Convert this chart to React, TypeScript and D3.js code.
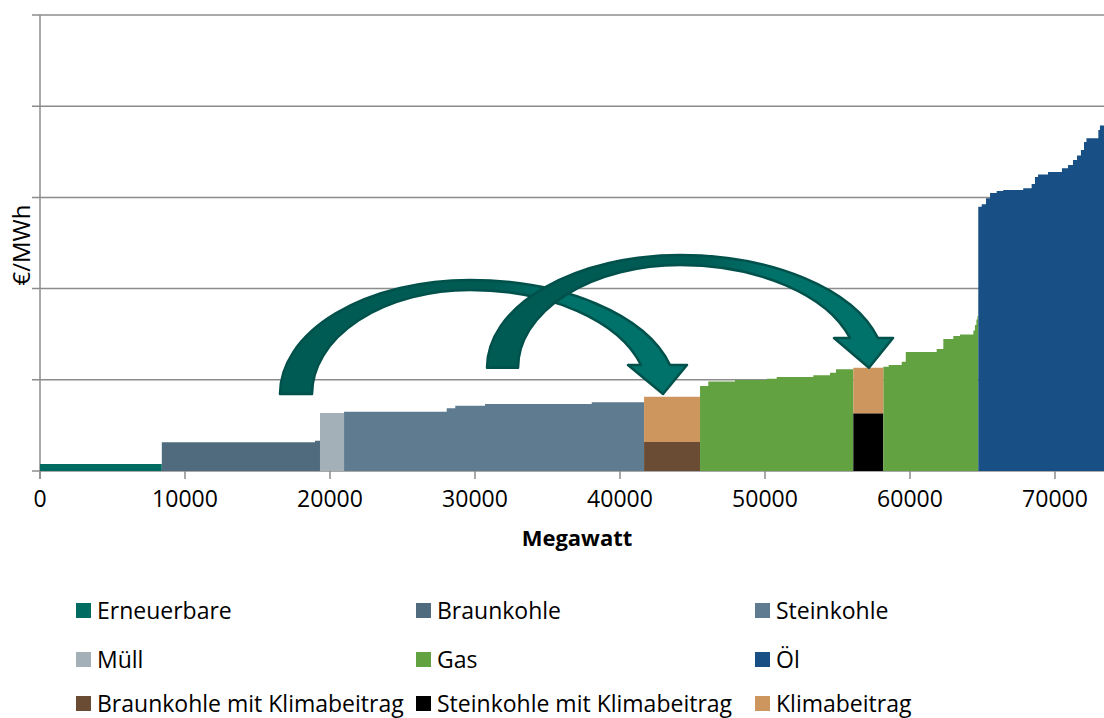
import * as d3 from "d3";

const W = 1104;
const H = 718;

// Merit-Order: [von MW, bis MW, €/MWh]
const erneuerbare = [[0, 8400, 3.8]];
const braunkohle = [[8400, 18970, 15.7], [18970, 19310, 16.6]];
const muell = [[19310, 20970, 31.8]];
const steinkohle = [
  [20970, 28050, 32.5], [28050, 28640, 34.4], [28640, 30690, 35.8],
  [30690, 38050, 36.7], [38050, 41660, 37.7],
];
const braunkohleKlima = [[41660, 45520, 15.9]];
const gasTeil1 = [
  [45520, 46090, 46.6], [46090, 47930, 49.0], [47930, 50120, 49.9],
  [50120, 50810, 50.6], [50810, 53330, 51.5], [53330, 54480, 52.5],
  [54480, 54900, 53.9], [54900, 56090, 55.8],
];
const steinkohleKlima = [[56090, 58160, 31.6]];
const gasTeil2 = [
  [58160, 58530, 57.2], [58530, 59430, 58.1], [59430, 59710, 59.9],
  [59710, 61840, 65.2], [61840, 62300, 66.9], [62300, 62990, 72.4],
  [62990, 63450, 74.0], [63450, 64370, 74.8], [64370, 64480, 77.0],
  [64480, 64580, 80.0], [64580, 64650, 83.0], [64650, 64710, 85.0],
];
const oel = [
  [64710, 64945, 144.9], [64945, 65240, 146.2], [65240, 65520, 149.5],
  [65520, 65980, 152.4], [65980, 66430, 153.5], [66430, 67810, 154.1],
  [67810, 68390, 155.0], [68390, 68620, 157.3], [68620, 68830, 161.2],
  [68830, 69520, 162.6], [69520, 70480, 163.9], [70480, 70900, 166.0],
  [70900, 71240, 167.8], [71240, 71520, 170.5], [71520, 71790, 173.0],
  [71790, 72000, 176.0], [72000, 72170, 180.4], [72170, 72990, 182.4],
  [72990, 73100, 186.9], [73100, 73600, 189.4],
];
// Klimabeitrag: [von, bis, Sockel, Gesamt]
const klimabeitrag = [
  [41660, 45520, 15.9, 40.7],
  [56090, 58160, 31.6, 56.6],
];

const xTicks = [0, 10000, 20000, 30000, 40000, 50000, 60000, 70000];
const yGrid = [0, 50, 100, 150, 200, 250];

const legend = [
  { name: "Erneuerbare", color: "#006b60" },
  { name: "Braunkohle", color: "#516b7e" },
  { name: "Steinkohle", color: "#5e7b90" },
  { name: "Müll", color: "#a3b0b7" },
  { name: "Gas", color: "#62a241" },
  { name: "Öl", color: "#184f84" },
  { name: "Braunkohle mit Klimabeitrag", color: "#6a4c35" },
  { name: "Steinkohle mit Klimabeitrag", color: "#000000" },
  { name: "Klimabeitrag", color: "#cc965e" },
];
const colorOf = (n: string) => legend.find((l) => l.name === n)!.color;

// Pfeile (in Datenkoordinaten)
const arrows = [
  { crest: 29660, base: 42.2, tailOuter: 16550, tailInner: 18760, stemInner: 41450, stemOuter: 43450,
    outerTop: 104.7, innerTop: 99.2, head: 58.1, wingL: 40550, wingR: 44620, tip: 42970 },
  { crest: 44140, base: 56.6, tailOuter: 30830, tailInner: 32970, stemInner: 55860, stemOuter: 57790,
    outerTop: 118.4, innerTop: 112.9, head: 72.9, wingL: 54760, wingR: 58830, tip: 57170 },
];

const font = "'Open Sans', sans-serif";

export default function App() {
  const x = d3.scaleLinear().domain([0, 73380]).range([40, 1104]);
  const y = d3.scaleLinear().domain([0, 250]).range([471, 15]);

  const area = d3
    .area<number[]>()
    .x((d) => x(d[0]))
    .y0(y(0))
    .y1((d) => y(d[1]))
    .curve(d3.curveStepAfter);

  const stepPath = (steps: number[][]) => {
    const pts = steps.map((s) => [s[0], s[2]]);
    const last = steps[steps.length - 1];
    pts.push([last[1], last[2]]);
    return area(pts) || "";
  };

  const series = [
    { name: "Erneuerbare", steps: erneuerbare },
    { name: "Braunkohle", steps: braunkohle },
    { name: "Müll", steps: muell },
    { name: "Steinkohle", steps: steinkohle },
    { name: "Braunkohle mit Klimabeitrag", steps: braunkohleKlima },
    { name: "Gas", steps: gasTeil1 },
    { name: "Steinkohle mit Klimabeitrag", steps: steinkohleKlima },
    { name: "Gas", steps: gasTeil2 },
    { name: "Öl", steps: oel },
  ];

  const arrowPath = (a: (typeof arrows)[0]) => {
    const cx = x(a.crest);
    const cy = y(a.base);
    const ryO = cy - y(a.outerTop);
    const ryI = cy - y(a.innerTop);
    const hy = y(a.head);
    const rxOL = cx - x(a.tailOuter);
    const rxIL = cx - x(a.tailInner);
    const rxOR = (x(a.stemOuter) - cx) / Math.sqrt(1 - ((cy - hy) / ryO) ** 2);
    const rxIR = (x(a.stemInner) - cx) / Math.sqrt(1 - ((cy - hy) / ryI) ** 2);
    return [
      `M${cx - rxOL},${cy}`,
      `A${rxOL},${ryO} 0 0 1 ${cx},${cy - ryO}`,
      `A${rxOR},${ryO} 0 0 1 ${x(a.stemOuter)},${hy}`,
      `L${x(a.wingR)},${hy}`,
      `L${x(a.tip)},${cy}`,
      `L${x(a.wingL)},${hy}`,
      `L${x(a.stemInner)},${hy}`,
      `A${rxIR},${ryI} 0 0 0 ${cx},${cy - ryI}`,
      `A${rxIL},${ryI} 0 0 0 ${cx - rxIL},${cy}`,
      "Z",
    ].join(" ");
  };

  const grid = "#8c8c8c";

  return (
    <svg
      width={W}
      height={H}
      style={{ position: "absolute", left: 0, top: 0, background: "#fff" }}
      fontFamily={font}
    >
      <defs>
        <linearGradient id="pfeil" x1="0" x2="1" y1="0" y2="0">
          <stop offset="0" stopColor="#005b54" />
          <stop offset="0.52" stopColor="#005b54" />
          <stop offset="0.7" stopColor="#00726a" />
          <stop offset="1" stopColor="#00726a" />
        </linearGradient>
      </defs>

      {/* Gitternetz */}
      {yGrid.map((v) => (
        <line key={v} x1={32} x2={W} y1={y(v)} y2={y(v)} stroke={grid} strokeWidth={1.5} />
      ))}
      <line x1={40} x2={40} y1={y(250)} y2={y(0) + 8} stroke={grid} strokeWidth={1.5} />
      {xTicks.map((t) => (
        <line key={t} x1={x(t)} x2={x(t)} y1={y(0)} y2={y(0) + 8} stroke={grid} strokeWidth={1.5} />
      ))}

      {/* Kraftwerksblöcke */}
      {series.map((s, i) => (
        <path key={i} d={stepPath(s.steps)} fill={colorOf(s.name)} />
      ))}
      {klimabeitrag.map((k, i) => (
        <rect
          key={i}
          x={x(k[0])}
          width={x(k[1]) - x(k[0])}
          y={y(k[3])}
          height={y(k[2]) - y(k[3])}
          fill={colorOf("Klimabeitrag")}
        />
      ))}

      {/* Pfeile */}
      {arrows.map((a, i) => (
        <path key={i} d={arrowPath(a)} fill="url(#pfeil)" stroke="#00514b" strokeWidth={2.5} strokeLinejoin="round" />
      ))}

      {/* Achsenbeschriftung */}
      {xTicks.map((t) => (
        <text key={t} x={x(t)} y={506.5} textAnchor="middle" fontSize={23} fill="#000">
          {t}
        </text>
      ))}
      <text x={577} y={546} textAnchor="middle" fontSize={22} fontWeight="bold">
        Megawatt
      </text>
      <text transform="translate(30,245) rotate(-90)" textAnchor="middle" fontSize={24}>
        €/MWh
      </text>

      {/* Legende */}
      {legend.map((l, i) => {
        const col = i % 3;
        const row = Math.floor(i / 3);
        const lx = [76, 416, 755][col];
        const ly = [618, 667, 711][row];
        return (
          <g key={l.name}>
            <rect x={lx} y={ly - 15} width={15} height={15} fill={l.color} />
            <text x={lx + 21} y={ly + 1} fontSize={23} fill="#000">
              {l.name}
            </text>
          </g>
        );
      })}
    </svg>
  );
}
